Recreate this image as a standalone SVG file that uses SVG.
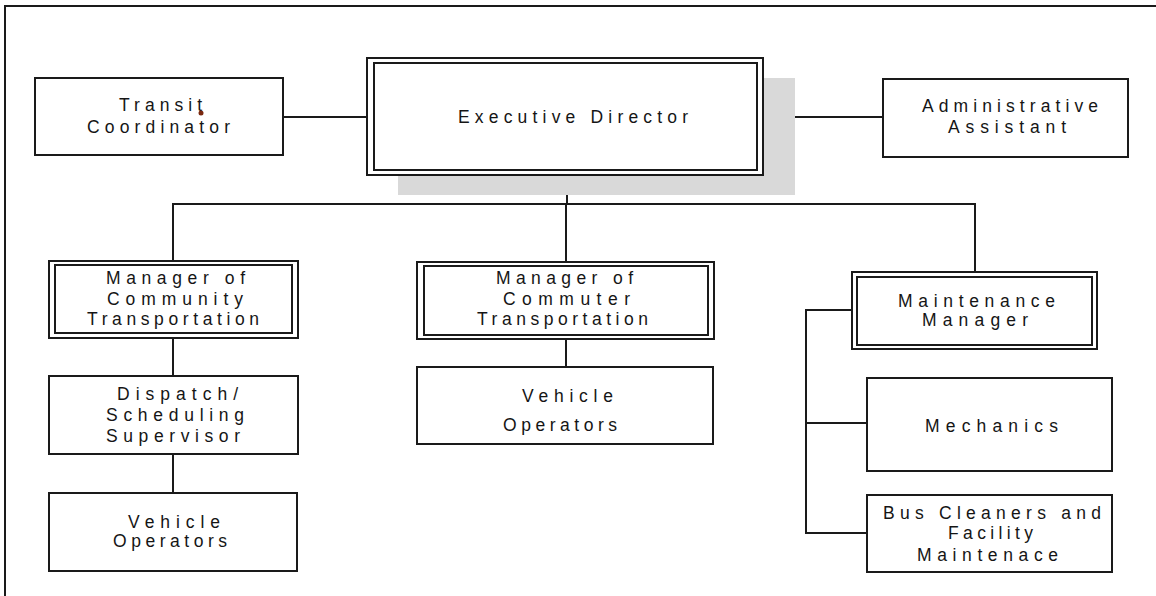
<svg xmlns="http://www.w3.org/2000/svg" width="1156" height="596" viewBox="0 0 1156 596">
  <style>
    .box { fill: #ffffff; stroke: #1a1a1a; stroke-width: 2; }
    .inner { fill: none; stroke: #1a1a1a; stroke-width: 2; }
    .wire { fill: none; stroke: #1a1a1a; stroke-width: 2; }
    .label { font-family: "Liberation Sans", Arial, sans-serif; font-size: 17.5px; fill: #151515; }
  </style>
  <rect x="0" y="0" width="1156" height="596" fill="#ffffff"/>
  <!-- page frame -->
  <rect x="5" y="6" width="1170" height="610" fill="none" stroke="#1a1a1a" stroke-width="2"/>

  <!-- connectors -->
  <g id="connectors" class="wire">
    <line x1="283" y1="117" x2="367" y2="117"/>
    <line x1="763" y1="117" x2="883" y2="117"/>
    <line x1="567" y1="175" x2="567" y2="204"/>
    <polyline points="173,262 173,204 975,204 975,272"/>
    <line x1="566" y1="204" x2="566" y2="262"/>
    <line x1="173" y1="338" x2="173" y2="376"/>
    <line x1="173" y1="454" x2="173" y2="493"/>
    <line x1="566" y1="339" x2="566" y2="367"/>
    <polyline points="852,310 806,310 806,533 867,533"/>
    <line x1="806" y1="423" x2="867" y2="423"/>
  </g>

  <g id="transit-coordinator">
    <rect class="box" x="35" y="78" width="248" height="77"/>
    <text class="label" x="119" y="111" textLength="83" lengthAdjust="spacing">Transit</text>
    <text class="label" x="87" y="133" textLength="143" lengthAdjust="spacing">Coordinator</text>
    <circle cx="201" cy="113" r="2.5" fill="#7a2810"/>
  </g>

  <g id="executive-director">
    <rect x="398" y="78" width="397" height="117" fill="#d9d9d9"/>
    <rect class="box" x="367" y="58" width="396" height="117"/>
    <rect class="inner" x="374" y="63" width="383" height="107"/>
    <text class="label" x="458" y="123" textLength="230" lengthAdjust="spacing">Executive Director</text>
  </g>

  <g id="administrative-assistant">
    <rect class="box" x="883" y="79" width="245" height="78"/>
    <text class="label" x="922" y="112" textLength="176" lengthAdjust="spacing">Administrative</text>
    <text class="label" x="948" y="133" textLength="118" lengthAdjust="spacing">Assistant</text>
  </g>

  <g id="manager-community">
    <rect class="box" x="49" y="261" width="249" height="77"/>
    <rect class="inner" x="55" y="265" width="237" height="68"/>
    <text class="label" x="106" y="284" textLength="139" lengthAdjust="spacing">Manager of</text>
    <text class="label" x="107" y="305" textLength="136" lengthAdjust="spacing">Community</text>
    <text class="label" x="87" y="325" textLength="172" lengthAdjust="spacing">Transportation</text>
  </g>

  <g id="dispatch-supervisor">
    <rect class="box" x="49" y="376" width="249" height="78"/>
    <text class="label" x="117" y="400" textLength="121" lengthAdjust="spacing">Dispatch/</text>
    <text class="label" x="106" y="421" textLength="138" lengthAdjust="spacing">Scheduling</text>
    <text class="label" x="106" y="442" textLength="134" lengthAdjust="spacing">Supervisor</text>
  </g>

  <g id="vehicle-operators-community">
    <rect class="box" x="49" y="493" width="248" height="78"/>
    <text class="label" x="128" y="528" textLength="92" lengthAdjust="spacing">Vehicle</text>
    <text class="label" x="113" y="547" textLength="114" lengthAdjust="spacing">Operators</text>
  </g>

  <g id="manager-commuter">
    <rect class="box" x="417" y="262" width="297" height="77"/>
    <rect class="inner" x="424" y="266" width="284" height="69"/>
    <text class="label" x="496" y="284" textLength="137" lengthAdjust="spacing">Manager of</text>
    <text class="label" x="503" y="305" textLength="127" lengthAdjust="spacing">Commuter</text>
    <text class="label" x="477" y="325" textLength="171" lengthAdjust="spacing">Transportation</text>
  </g>

  <g id="vehicle-operators-commuter">
    <rect class="box" x="417" y="367" width="296" height="77"/>
    <text class="label" x="522" y="402" textLength="91" lengthAdjust="spacing">Vehicle</text>
    <text class="label" x="503" y="431" textLength="114" lengthAdjust="spacing">Operators</text>
  </g>

  <g id="maintenance-manager">
    <rect class="box" x="852" y="272" width="245" height="77"/>
    <rect class="inner" x="857" y="277" width="235" height="68"/>
    <text class="label" x="898" y="307" textLength="157" lengthAdjust="spacing">Maintenance</text>
    <text class="label" x="922" y="326" textLength="106" lengthAdjust="spacing">Manager</text>
  </g>

  <g id="mechanics">
    <rect class="box" x="867" y="378" width="245" height="93"/>
    <text class="label" x="925" y="432" textLength="133" lengthAdjust="spacing">Mechanics</text>
  </g>

  <g id="bus-cleaners">
    <rect class="box" x="867" y="495" width="245" height="77"/>
    <text class="label" x="883" y="519" textLength="218" lengthAdjust="spacing">Bus Cleaners and</text>
    <text class="label" x="948" y="539" textLength="85" lengthAdjust="spacing">Facility</text>
    <text class="label" x="917" y="561" textLength="141" lengthAdjust="spacing">Maintenace</text>
  </g>
</svg>
